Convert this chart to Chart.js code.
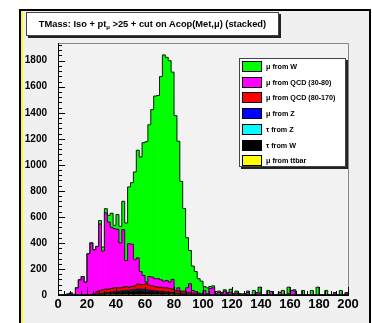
<!DOCTYPE html>
<html>
<head>
<meta charset="utf-8">
<script src="https://cdn.jsdelivr.net/npm/chart.js@4.4.1/dist/chart.umd.min.js"></script>
<style>
html,body{margin:0;padding:0;background:#fff;width:372px;height:323px;overflow:hidden;font-family:"Liberation Sans",Arial,sans-serif;}
#frame{position:absolute;left:19px;top:9px;width:348px;height:330px;background:#f0f0f0;border:2px solid #000;border-bottom:none;box-shadow:inset 2px 0 0 #ffff00;}
#c{position:absolute;left:0;top:0;}
#title{position:absolute;left:26px;top:12px;width:251px;height:22px;background:#fff;border:1px solid #444;box-shadow:2px 2px 0 #222;font-weight:bold;font-size:9.3px;line-height:22px;text-align:center;white-space:nowrap;}
#title sub{font-size:6px;vertical-align:-2px;line-height:0;}
#legend{position:absolute;left:239px;top:58px;width:105px;height:107px;background:#fff;border:1px solid #444;box-shadow:2px 2px 0 #222;}
.item{position:absolute;left:2px;height:11px;font-weight:bold;font-size:7.2px;line-height:11px;white-space:nowrap;}
.sw{display:inline-block;width:18px;height:9px;border:1px solid #000;vertical-align:top;margin-right:4px;}
</style>
</head>
<body>
<div id="frame"></div>
<canvas id="c" width="372" height="323"></canvas>
<div id="title">TMass: Iso + pt<sub>μ</sub> &gt;25 + cut on Acop(Met,μ) (stacked)</div>
<div id="legend"></div>
<script>
// histogram binning (x in GeV)
const xMin = 0, xMax = 200, binWidth = 2;
const xTicks = [0, 20, 40, 60, 80, 100, 120, 140, 160, 180, 200];
const yTicks = [0, 200, 400, 600, 800, 1000, 1200, 1400, 1600, 1800];
const yMax = 1936;

// legend order (top of stack first)
const seriesNames = ['μ from W', 'μ from QCD (30-80)', 'μ from QCD (80-170)', 'μ from Z', 'τ from Z', 'τ from W', 'μ from ttbar'];
const seriesColors = ['#00ff00', '#ff00ff', '#ff0000', '#0000ff', '#00ffff', '#000000', '#ffff00'];

const muW = [
  0,0,0,0,0,0,0,0,0,0,
  0,0,0,0,27,30,33,52,108,26,
  113,127,218,288,436,473,674,827,880,1020,
  1078,1166,1287,1403,1408,1561,1738,1714,1701,1592,
  1343,1126,843,635,385,256,187,155,110,94,
  30,45,15,15,17,10,9,10,10,24,
  7,15,7,3,10,10,0,30,0,43,
  0,0,35,0,0,0,0,35,0,50,
  0,10,0,0,35,0,0,35,0,60,
  0,0,35,0,0,0,0,35,0,0
];
const muQcd3080 = [
  0,0,0,8,15,5,54,115,140,97,
  314,396,338,348,510,298,585,515,470,454,
  450,345,442,200,334,325,201,200,100,70,
  10,67,67,60,65,57,51,57,49,75,
  0,25,5,5,35,66,20,13,5,4,
  29,6,46,52,7,19,8,29,9,19,
  5,15,5,5,0,20,0,5,17,17,
  0,0,0,27,0,0,20,0,0,10,
  35,30,0,0,0,0,0,0,0,0,
  0,0,0,0,0,17,0,0,0,17
];
const muQcd80170 = [
  0,0,0,0,0,0,0,0,0,0,
  0,0,7,18,24,27,27,25,29,30,
  28,26,28,30,24,26,29,40,35,36,
  50,38,35,34,30,32,30,33,29,26,
  20,18,14,17,14,14,10,8,7,6,
  4,3,3,2,2,1,1,1,0,1,
  0,0,0,0,0,0,0,0,0,0,
  0,0,0,0,0,0,0,0,0,0,
  0,0,0,0,0,0,0,0,0,0,
  0,0,0,0,0,0,0,0,0,0
];
const muZ = [
  0,0,0,0,0,0,0,0,0,0,
  0,0,1,2,3,4,5,6,6,7,
  7,8,8,8,8,9,9,10,10,12,
  10,9,9,7,7,7,6,5,5,5,
  3,3,2,2,1,2,1,1,1,0,
  0,0,0,0,0,0,0,0,0,0,
  0,0,0,0,0,0,0,0,0,0,
  0,0,0,0,0,0,0,0,0,0,
  0,0,0,0,0,0,0,0,0,0,
  0,0,0,0,0,0,0,0,0,0
];
const tauZ = [
  0,0,0,0,0,0,0,0,0,0,
  0,0,0,0,1,1,1,1,1,1,
  1,1,2,2,2,2,2,2,2,2,
  1,1,1,1,1,1,1,1,1,1,
  1,0,1,0,0,0,0,0,0,0,
  0,0,0,0,0,0,0,0,0,0,
  0,0,0,0,0,0,0,0,0,0,
  0,0,0,0,0,0,0,0,0,0,
  0,0,0,0,0,0,0,0,0,0,
  0,0,0,0,0,0,0,0,0,0
];
const tauW = [
  0,0,0,0,0,0,1,2,2,2,
  3,4,2,5,7,8,11,12,13,16,
  18,19,21,24,24,26,28,31,31,28,
  27,25,23,21,20,18,16,14,13,11,
  10,8,7,5,4,3,3,2,1,1,
  1,1,0,1,0,0,0,0,0,0,
  0,0,0,0,0,0,0,0,0,0,
  0,0,0,0,0,0,0,0,0,0,
  0,0,0,0,0,0,0,0,0,0,
  0,0,0,0,0,0,0,0,0,0
];
const ttbar = [
  0,0,0,0,0,0,0,0,0,0,
  0,0,0,0,0,0,1,1,1,1,
  1,1,1,1,2,2,2,2,2,2,
  2,2,2,2,2,2,2,2,2,2,
  1,1,1,1,1,1,1,1,1,1,
  1,0,1,0,1,0,1,0,1,0,
  0,0,0,0,0,0,0,0,0,0,
  0,0,0,0,0,0,0,0,0,0,
  0,0,0,0,0,0,0,0,0,0,
  0,0,0,0,0,0,0,0,0,0
];

const seriesData = [muW, muQcd3080, muQcd80170, muZ, tauZ, tauW, ttbar];

// html legend (ROOT TLegend look)
const legendEl = document.getElementById('legend');
seriesNames.forEach((name, k) => {
  const it = document.createElement('div');
  it.className = 'item';
  it.style.top = (2 + k * 15.7) + 'px';
  const sw = document.createElement('span');
  sw.className = 'sw';
  sw.style.background = seriesColors[k];
  it.appendChild(sw);
  it.appendChild(document.createTextNode(name));
  legendEl.appendChild(it);
});

// stack: first added is at the bottom
const order = [6, 5, 4, 3, 2, 1, 0];
const datasets = [];
const cum = new Array(muW.length).fill(0);
const outlines = [];
order.forEach(k => {
  const vals = seriesData[k];
  datasets.push({
    type: 'bar',
    label: seriesNames[k],
    data: vals.map((v, i) => ({x: xMin + (i + 0.5) * binWidth, y: v})),
    backgroundColor: seriesColors[k],
    borderWidth: 0,
    barPercentage: 1,
    categoryPercentage: 1,
    stack: 'hs'
  });
  for (let i = 0; i < vals.length; i++) cum[i] += vals[i];
  const pts = [{x: xMin, y: 0}];
  cum.forEach((v, i) => pts.push({x: xMin + (i + 1) * binWidth, y: v}));
  pts.push({x: xMax, y: 0});
  outlines.push({
    type: 'line',
    label: 'outline ' + k,
    data: pts,
    borderColor: '#1a1a1a',
    borderWidth: 1,
    pointRadius: 0,
    stepped: 'after',
    fill: false,
    order: -1,
    stack: 'o' + k
  });
});

// ROOT style frame: inward ticks, gray top/right
const axisPlugin = {
  id: 'rootAxes',
  beforeDraw(chart) {
    const {ctx, chartArea: a} = chart;
    ctx.save();
    ctx.fillStyle = '#f2f2f2';
    ctx.fillRect(a.left, a.top, a.right - a.left, a.bottom - a.top);
    ctx.restore();
  },
  afterDraw(chart) {
    const {ctx, chartArea: a, scales: {x, y}} = chart;
    ctx.save();
    ctx.lineWidth = 1;
    ctx.strokeStyle = '#888';
    ctx.beginPath();
    ctx.moveTo(a.left, a.top + 0.5); ctx.lineTo(a.right + 0.5, a.top + 0.5);
    ctx.lineTo(a.right + 0.5, a.bottom);
    ctx.stroke();
    ctx.strokeStyle = '#000';
    ctx.beginPath();
    ctx.moveTo(a.left + 0.5, a.top); ctx.lineTo(a.left + 0.5, a.bottom + 0.5); ctx.lineTo(a.right + 1, a.bottom + 0.5);
    for (let v = 0; v <= yMax; v += 40) {
      const py = Math.round(y.getPixelForValue(v)) + 0.5;
      const len = v % 200 === 0 ? 7 : 4;
      ctx.moveTo(a.left, py); ctx.lineTo(a.left + len, py);
    }
    for (let v = xMin; v <= xMax; v += 4) {
      const px = Math.round(x.getPixelForValue(v)) + 0.5;
      const len = v % 20 === 0 ? 8 : 4;
      ctx.moveTo(px, a.bottom); ctx.lineTo(px, a.bottom - len);
    }
    ctx.stroke();
    ctx.restore();
  }
};

new Chart(document.getElementById('c'), {
  type: 'bar',
  data: {datasets: datasets.concat(outlines)},
  options: {
    responsive: false,
    animation: false,
    layout: {padding: {left: 0, top: 43, right: 24, bottom: 0}},
    plugins: {legend: {display: false}, tooltip: {enabled: false}, title: {display: false}},
    scales: {
      x: {
        type: 'linear', min: xMin, max: xMax, stacked: true, offset: false,
        afterFit: s => { s.height = 28; },
        afterBuildTicks: s => { s.ticks = xTicks.map(v => ({value: v})); },
        grid: {display: false, drawTicks: false},
        border: {display: false},
        ticks: {color: '#000', padding: 2, maxRotation: 0, autoSkip: false, callback: v => String(v), font: {family: 'Liberation Sans', weight: 'bold', size: 13}}
      },
      y: {
        min: 0, max: yMax, stacked: true,
        afterFit: s => { s.width = 58; },
        afterBuildTicks: s => { s.ticks = yTicks.map(v => ({value: v})); },
        grid: {display: false, drawTicks: false},
        border: {display: false},
        ticks: {color: '#000', padding: 11, callback: v => String(v), font: {family: 'Liberation Sans', weight: 'bold', size: 10}}
      }
    }
  },
  plugins: [axisPlugin]
});
</script>
</body>
</html>
